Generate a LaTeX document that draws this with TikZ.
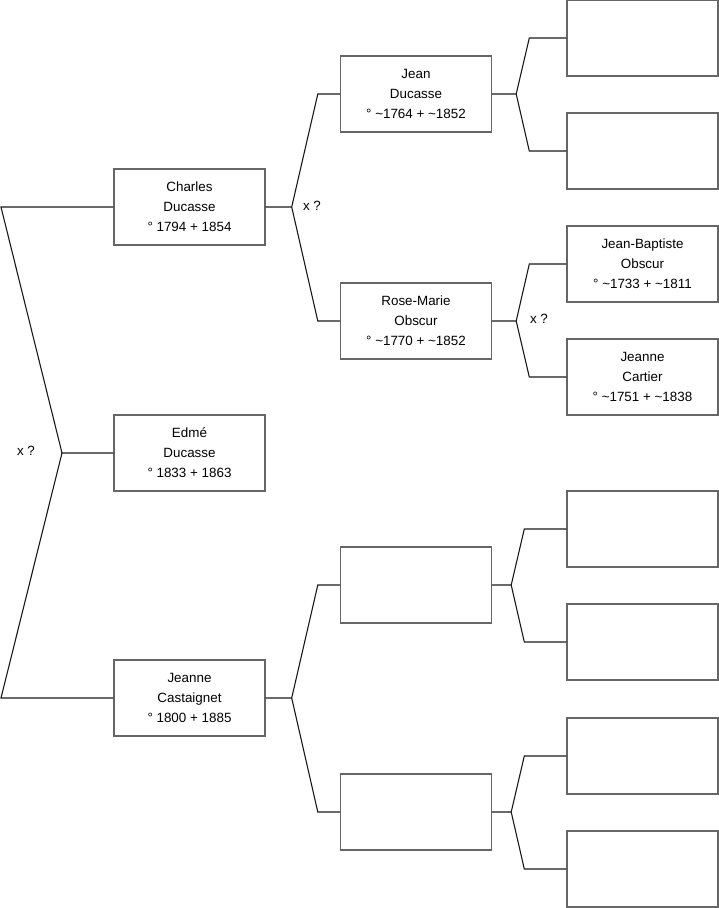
\documentclass[tikz,border=0pt]{standalone}
\usepackage{fontspec}
\setmainfont{Liberation Sans}
\usetikzlibrary{calc}
\definecolor{cbox}{HTML}{666666}
\definecolor{cline}{HTML}{1A1A1A}
\tikzset{
  every picture/.style={line width=0.9pt},
  person/.style={draw=cbox, line width=1.4pt, minimum width=151pt, minimum height=76pt, align=center, inner sep=0pt, font=\fontsize{13.4}{20}\selectfont},
  link/.style={draw=cline, line width=1.1pt},
  union/.style={font=\fontsize{13.4}{16}\selectfont, inner sep=0pt},
}
% parent, father, mother, step out, step in
\newcommand{\fork}[5]{
  \draw[link] (#1.east) -- ++(#4,0) coordinate (#1-f) -- ($(#2.west)+(-#5,0)$) -- (#2.west);
  \draw[link] (#1-f) -- ($(#3.west)+(-#5,0)$) -- (#3.west);
}

\begin{document}
\begin{tikzpicture}[x=1pt, y=-1pt]
  \useasboundingbox (0,0) rectangle (719,908);
  \newcommand{\ca}{\textasciitilde}

  % generation 1
  \node[person] (edme) at (189.5,453) {Edmé\\Ducasse\\° 1833 + 1863};

  % generation 2
  \node[person] (charles) at (189.5,207) {Charles\\Ducasse\\° 1794 + 1854};
  \node[person] (castaignet) at (189.5,698) {Jeanne\\Castaignet\\° 1800 + 1885};

  % generation 3
  \node[person] (jean) at (416,94) {Jean\\Ducasse\\° \ca1764 + \ca1852};
  \node[person] (rosemarie) at (416,321) {Rose-Marie\\Obscur\\° \ca1770 + \ca1852};
  \node[person] (p3c) at (416,585) {};
  \node[person] (p3d) at (416,812) {};

  % generation 4
  \node[person] (p4a) at (642.5,38) {};
  \node[person] (p4b) at (642.5,151) {};
  \node[person] (jeanbaptiste) at (642.5,264) {Jean-Baptiste\\Obscur\\° \ca1733 + \ca1811};
  \node[person] (cartier) at (642.5,377) {Jeanne\\Cartier\\° \ca1751 + \ca1838};
  \node[person] (p4e) at (642.5,529) {};
  \node[person] (p4f) at (642.5,642) {};
  \node[person] (p4g) at (642.5,756) {};
  \node[person] (p4h) at (642.5,869) {};

  % root bracket
  \coordinate (top) at (1,207);
  \coordinate (mid) at (62,453);
  \coordinate (bot) at (1,698);
  \draw[link] (charles.west) -- (top) -- (mid) -- (edme.west);
  \draw[link] (mid) -- (bot) -- (castaignet.west);

  % forks
  \fork{charles}{jean}{rosemarie}{26}{22}
  \fork{castaignet}{p3c}{p3d}{26}{22}
  \fork{jean}{p4a}{p4b}{24}{37}
  \fork{rosemarie}{jeanbaptiste}{cartier}{24}{37}
  \fork{p3c}{p4e}{p4f}{19}{42}
  \fork{p3d}{p4g}{p4h}{19}{42}

  % marriages
  \node[union] (u1) at (26,451) {x ?};
  \node[union] (u2) at (312,206) {x ?};
  \node[union] (u3) at (539,319) {x ?};
\end{tikzpicture}
\end{document}
